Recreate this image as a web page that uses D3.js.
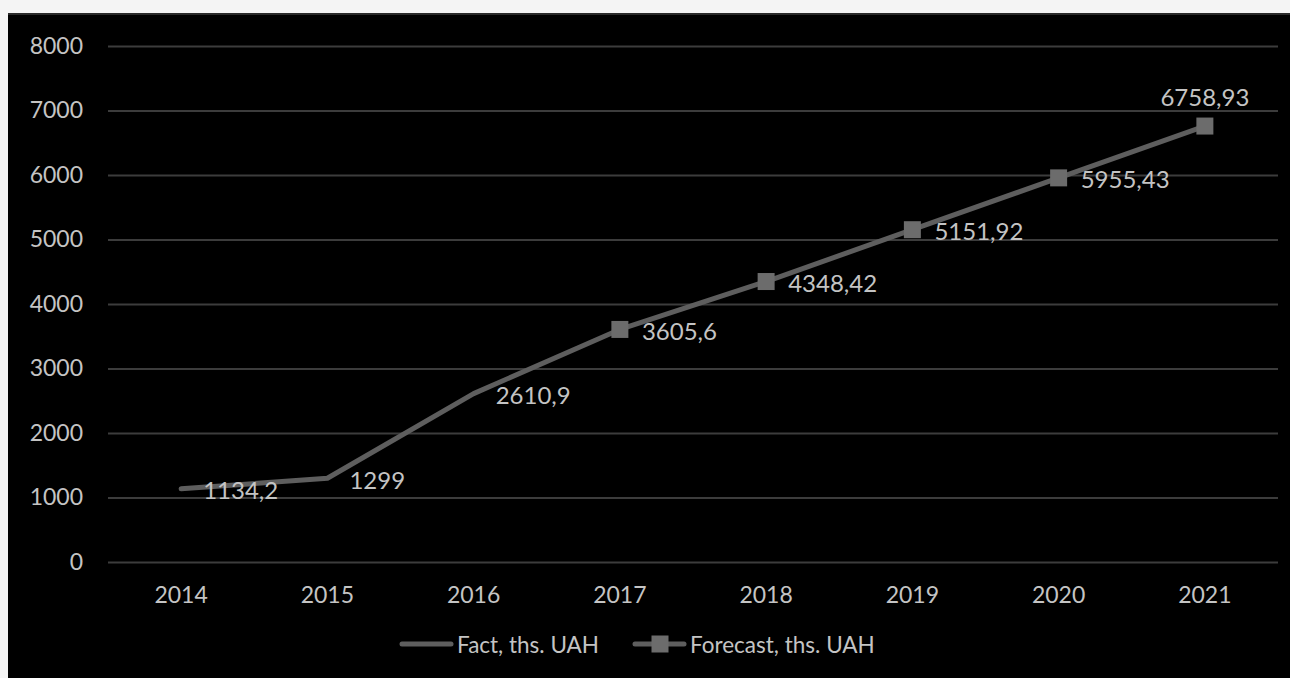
<!DOCTYPE html>
<html>
<head>
<meta charset="utf-8">
<script src="https://cdn.jsdelivr.net/npm/d3@7/dist/d3.min.js"></script>
<style>
  html, body { margin: 0; padding: 0; background: #f4f4f4; }
  svg { display: block; }
  text { font-family: Lato, "Open Sans", sans-serif; }
</style>
</head>
<body>
<svg id="chart" width="1290" height="678"></svg>
<script>
// Revenue: actual figures and forecast, thousand UAH
const years = ["2014", "2015", "2016", "2017", "2018", "2019", "2020", "2021"];
const factYears = ["2014", "2015", "2016", "2017"];
const factValues = [1134.2, 1299, 2610.9, 3605.6];
const forecastYears = ["2017", "2018", "2019", "2020", "2021"];
const forecastValues = [3605.6, 4348.42, 5151.92, 5955.43, 6758.93];
const labelYears = ["2014", "2015", "2016", "2017", "2018", "2019", "2020", "2021"];
const labelValues = ["1134,2", "1299", "2610,9", "3605,6", "4348,42", "5151,92", "5955,43", "6758,93"];
const yTicks = [0, 1000, 2000, 3000, 4000, 5000, 6000, 7000, 8000];
const seriesNames = ["Fact, ths. UAH", "Forecast, ths. UAH"];

const svg = d3.select("#chart");
const lineColor = "#5e5e5e";
const markerColor = "#6c6c6c";
const textColor = "#c4c4c4";
const axisFont = 23;
const labelFont = 24;
const legendFont = 22.5;

// dark panel
svg.append("rect").attr("x", 8).attr("y", 13).attr("width", 1282).attr("height", 665).attr("fill", "#000");
svg.append("rect").attr("x", 8).attr("y", 13).attr("width", 1282).attr("height", 2).attr("fill", "#2a2a2a");

const plot = { left: 108, right: 1278, top: 46, bottom: 562 };

const x = d3.scaleBand().domain(years).range([plot.left, plot.right]);
const cx = d => x(d) + x.bandwidth() / 2;
const y = d3.scaleLinear().domain([0, 8000]).range([plot.bottom, plot.top]);

// horizontal gridlines + y labels
const yAxis = d3.axisLeft(y).tickValues(yTicks).tickSize(-(plot.right - plot.left)).tickPadding(25).tickFormat(d3.format("d"));
const gy = svg.append("g").attr("transform", `translate(${plot.left},0)`).call(yAxis);
gy.select(".domain").remove();
gy.selectAll(".tick line").attr("stroke", "#3c3c3c").attr("stroke-width", 2);
gy.selectAll(".tick text").attr("fill", textColor).attr("font-size", axisFont);

// x labels
const xAxis = d3.axisBottom(x).tickSize(0).tickPadding(25);
const gx = svg.append("g").attr("transform", `translate(0,${plot.bottom})`).call(xAxis);
gx.select(".domain").remove();
gx.selectAll(".tick text").attr("fill", textColor).attr("font-size", axisFont);

const line = d3.line().x(d => cx(d[0])).y(d => y(d[1]));

svg.append("path")
  .datum(d3.zip(factYears, factValues))
  .attr("d", line).attr("fill", "none").attr("stroke", lineColor)
  .attr("stroke-width", 5).attr("stroke-linejoin", "round").attr("stroke-linecap", "round");

svg.append("path")
  .datum(d3.zip(forecastYears, forecastValues))
  .attr("d", line).attr("fill", "none").attr("stroke", lineColor)
  .attr("stroke-width", 5).attr("stroke-linejoin", "round");

const ms = 17;
svg.append("g").selectAll("rect")
  .data(d3.zip(forecastYears, forecastValues))
  .join("rect")
  .attr("x", d => cx(d[0]) - ms / 2).attr("y", d => y(d[1]) - ms / 2)
  .attr("width", ms).attr("height", ms).attr("fill", markerColor);

// data labels: right of the point, the last one above it
const allValues = factValues.slice(0, 3).concat(forecastValues);
const lbl = svg.append("g");
labelYears.forEach((yr, i) => {
  const v = allValues[i];
  const last = i === labelYears.length - 1;
  lbl.append("text")
    .attr("x", last ? cx(yr) : cx(yr) + 22)
    .attr("y", last ? y(v) - 28 : y(v) + 2)
    .attr("dy", "0.35em")
    .attr("text-anchor", last ? "middle" : "start")
    .attr("fill", textColor).attr("font-size", labelFont)
    .text(labelValues[i]);
});

// legend
const lg = svg.append("g").attr("transform", "translate(0,644)");
lg.append("line").attr("x1", 402).attr("x2", 451).attr("y1", 0).attr("y2", 0)
  .attr("stroke", lineColor).attr("stroke-width", 5).attr("stroke-linecap", "round");
lg.append("text").attr("x", 457).attr("y", 1).attr("dy", "0.35em").attr("fill", textColor).attr("font-size", legendFont).text(seriesNames[0]);
lg.append("line").attr("x1", 635).attr("x2", 684).attr("y1", 0).attr("y2", 0)
  .attr("stroke", lineColor).attr("stroke-width", 5).attr("stroke-linecap", "round");
lg.append("rect").attr("x", 660 - 8.5).attr("y", -8.5).attr("width", 17).attr("height", 17).attr("fill", markerColor);
lg.append("text").attr("x", 690).attr("y", 1).attr("dy", "0.35em").attr("fill", textColor).attr("font-size", legendFont).text(seriesNames[1]);
</script>
</body>
</html>
